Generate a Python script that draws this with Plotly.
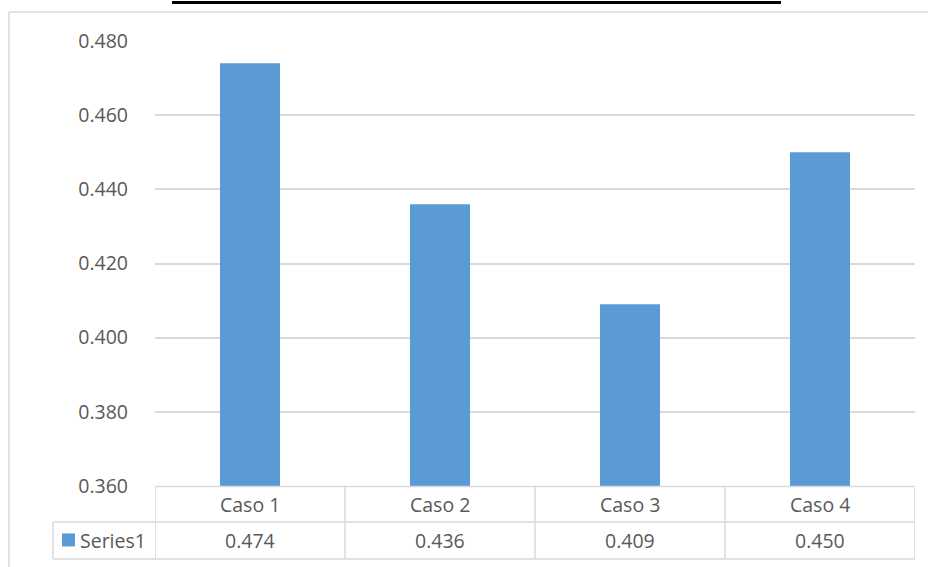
import plotly.graph_objects as go

# data
categories = ["Caso 1", "Caso 2", "Caso 3", "Caso 4"]
values = [0.474, 0.436, 0.409, 0.450]
series_name = "Series1"
y_ticks = [0.360, 0.380, 0.400, 0.420, 0.440, 0.460, 0.480]

# page geometry (pixels)
W, H = 928, 567
L, R = 155, 915          # plot area left/right
T, B = 41, 486.5         # plot area top/bottom
grey = "#d9d9d9"
txt = "#595959"
bar_col = "#5b9bd5"
font = "Open Sans"
fs = 19.5


def px(x):
    return (x - L) / (R - L)


def py(y):
    return (B - y) / (B - T)


def hline(y, x0, x1, color=grey, width=1.5):
    return dict(type="line", xref="paper", yref="paper",
                x0=px(x0), x1=px(x1), y0=py(y), y1=py(y),
                line=dict(color=color, width=width))


def vline(x, y0, y1, color=grey, width=1.5):
    return dict(type="line", xref="paper", yref="paper",
                x0=px(x), x1=px(x), y0=py(y0), y1=py(y1),
                line=dict(color=color, width=width))


fig = go.Figure()
fig.add_trace(go.Bar(
    x=categories, y=values, marker=dict(color=bar_col, line=dict(width=0)),
    name=series_name, showlegend=False,
))

shapes = []
# chart frame (top and left edges visible)
shapes.append(hline(12, 9, W + 5))
shapes.append(vline(9, 12, H + 5))
# black underline at the top (title cut off)
shapes.append(hline(2.5, 172, 781, color="black", width=3))

# data table
row1, row2, row3 = 487, 522.5, 559.5
shapes.append(hline(row1, L, R))
shapes.append(hline(row2, 53, R))
shapes.append(hline(row3, 53, R))
for i in range(len(categories) + 1):
    shapes.append(dict(type="line", xref="x", yref="paper",
                       x0=i - 0.5, x1=i - 0.5, y0=py(row1), y1=py(row3),
                       line=dict(color=grey, width=1.5)))
shapes.append(vline(53, row2, row3))
# legend key
shapes.append(dict(type="rect", xref="paper", yref="paper",
                   x0=px(62), x1=px(75), y0=py(547), y1=py(534),
                   fillcolor=bar_col, line=dict(width=0)))

annotations = []
for c, v in zip(categories, values):
    annotations.append(dict(x=c, y=py((row1 + row2) / 2), xref="x", yref="paper",
                            text=c, showarrow=False, yanchor="middle",
                            font=dict(family=font, size=fs, color=txt)))
    annotations.append(dict(x=c, y=py((row2 + row3) / 2), xref="x", yref="paper",
                            text=f"{v:.3f}", showarrow=False, yanchor="middle",
                            font=dict(family=font, size=fs, color=txt)))
annotations.append(dict(x=px(78), y=py((row2 + row3) / 2), xref="paper", yref="paper",
                        text=series_name, showarrow=False, xanchor="left", yanchor="middle",
                        font=dict(family=font, size=fs, color=txt)))

fig.update_layout(
    width=W, height=H,
    margin=dict(l=L, r=W - R, t=T, b=H - B, pad=0),
    paper_bgcolor="white", plot_bgcolor="white",
    bargap=0.684,
    shapes=shapes,
    annotations=annotations,
    xaxis=dict(range=[-0.5, len(categories) - 0.5], showticklabels=False,
               showgrid=False, showline=False, zeroline=False),
    yaxis=dict(range=[0.36, 0.48], tickvals=y_ticks, tickformat=".3f",
               showgrid=True, gridcolor=grey, gridwidth=1.5, zeroline=False,
               showline=False, ticks="", ticklabelstandoff=26,
               tickfont=dict(family=font, size=fs, color=txt)),
)

# the page body has a default 8px margin; drop it so the figure sits at 0,0
fig.write_html("out.html", config={"displayModeBar": False},
               post_script="document.body.style.margin='0';")
